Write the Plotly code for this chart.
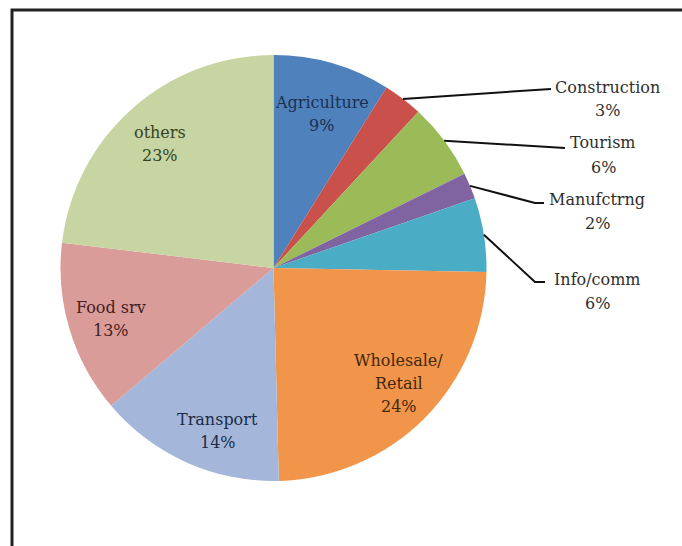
import math
import plotly.graph_objects as go

# ---- data ----
labels = ["Agriculture", "Construction", "Tourism", "Manufctrng", "Info/comm",
          "Wholesale/<br>Retail", "Transport", "Food srv", "others"]
values = [8.9, 3.0, 5.8, 2.0, 5.6, 24.3, 14.2, 13.1, 23.1]
pct_text = ["9%", "3%", "6%", "2%", "6%", "24%", "14%", "13%", "23%"]

# ---- style ----
colors = ["#4F81BD", "#C9504B", "#9BBB59", "#8064A2", "#4BACC6",
          "#F0954A", "#A4B7DB", "#DA9C99", "#C6D5A2"]
text_colors = ["#1B3150", "#2E2E2E", "#2E2E2E", "#2E2E2E", "#2E2E2E",
               "#45260F", "#1C2A45", "#45201E", "#34431E"]
inside = [True, False, False, False, False, True, True, True, True]
# polar placement of inside labels: (radius fraction, angle nudge in degrees)
inside_pos = {0: (0.76, 1.4), 5: (0.80, -2.1), 6: (0.81, -5.2), 7: (0.80, -0.5), 8: (0.79, -0.9)}
# outside labels: leader-line extra points (px) and text first-line centre (px)
outside_pos = {
    1: dict(path=[(551, 89)], cx=607, cy=87),
    2: dict(path=[(565, 148)], cx=603, cy=143),
    3: dict(path=[(535, 203), (544, 203)], cx=597, cy=199),
    4: dict(path=[(535, 282), (545, 282)], cx=597, cy=279),
}

W, H = 682, 546
CX, CY, R = 273.5, 268, 213
FONT = "DejaVu Serif"
FS = 16


def px(x):
    return x / W


def py(y):
    return 1 - y / H


fig = go.Figure(go.Pie(
    labels=labels, values=values, sort=False, direction="clockwise", rotation=0,
    marker=dict(colors=colors, line=dict(width=0)),
    textinfo="none", hoverinfo="skip", showlegend=False,
    domain=dict(x=[px(CX - R), px(CX + R)], y=[py(CY + R), py(CY - R)]),
))

total = sum(values)
annotations = []
shapes = []
cum = 0
for i, v in enumerate(values):
    mid = (cum + v / 2) / total * 360
    cum += v
    lines = labels[i].split("<br>") + [pct_text[i]]
    if inside[i]:
        frac, nudge = inside_pos[i]
        a = math.radians(mid + nudge)
        x = CX + frac * R * math.sin(a)
        y = CY - frac * R * math.cos(a)
        sp = 23
        y0 = y - sp * (len(lines) - 1) / 2
        for k, t in enumerate(lines):
            annotations.append(dict(x=px(x), y=py(y0 + k * sp), xref="paper", yref="paper",
                                    text=t, showarrow=False, xanchor="center", yanchor="middle",
                                    font=dict(family=FONT, size=FS, color=text_colors[i])))
    else:
        a = math.radians(mid)
        ex = CX + R * math.sin(a)
        ey = CY - R * math.cos(a)
        op = outside_pos[i]
        pts = [(ex, ey)] + op["path"]
        d = "M " + " L ".join(f"{px(p[0])},{py(p[1])}" for p in pts)
        shapes.append(dict(type="path", xref="paper", yref="paper", path=d,
                           line=dict(color="#111111", width=2)))
        sp = 24
        for k, t in enumerate(lines):
            annotations.append(dict(x=px(op["cx"]), y=py(op["cy"] + k * sp), xref="paper", yref="paper",
                                    text=t, showarrow=False, xanchor="center", yanchor="middle",
                                    font=dict(family=FONT, size=FS, color=text_colors[i])))

# chart frame
shapes.append(dict(type="rect", xref="paper", yref="paper",
                   x0=px(12), x1=px(W + 20), y0=py(H + 20), y1=py(10),
                   line=dict(color="#222222", width=3), fillcolor="rgba(0,0,0,0)", layer="above"))

fig.update_layout(
    width=W, height=H, margin=dict(l=0, r=0, t=0, b=0),
    paper_bgcolor="white", plot_bgcolor="white",
    annotations=annotations, shapes=shapes,
)

fig.write_html("out.html")
